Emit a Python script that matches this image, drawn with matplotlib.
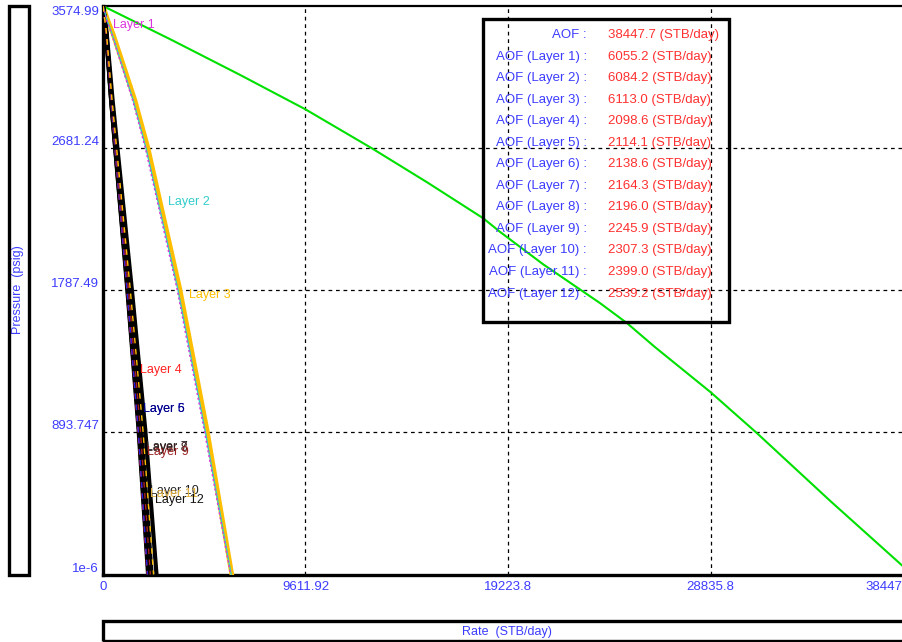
import matplotlib
matplotlib.use('Agg')
import matplotlib.pyplot as plt
from matplotlib.patches import Rectangle

plt.rcParams['font.family'] = ['Liberation Sans', 'DejaVu Sans']

# ---------------- data ----------------
P_MAX = 3574.99
Q_MAX = 38447.7

x_ticks = [0, 9611.92, 19223.8, 28835.8, 38447.7]
x_tick_labels = ["0", "9611.92", "19223.8", "28835.8", "38447.7"]
y_ticks = [0, 893.747, 1787.49, 2681.24, 3574.99]
y_tick_labels = ["1e-6", "893.747", "1787.49", "2681.24", "3574.99"]

total_rate = [0, 3250, 6502, 9612, 12753, 15400, 18050, 18842, 20900, 23588,
              24870, 26200, 28836, 31040, 34500, 37921, 38447.7]
total_pressure = [3574.99, 3362, 3142, 2925, 2681, 2465, 2240, 2155, 1950, 1707,
                  1581, 1430, 1147, 889, 465, 58, 0]

layer_pressure = [3574.99, 3480, 3400, 3210, 2980, 2680, 1790, 910, 0]

layer1_rate = [0, 190, 410, 860, 1410, 2010, 3520, 4800, 6055.2]
layer2_rate = [0, 205, 430, 885, 1440, 2045, 3560, 4840, 6084.2]
layer3_rate = [0, 237, 475, 949, 1519, 2136, 3654, 4935, 6113.0]
layer4_rate = [0, 84, 147, 252, 378, 567, 1133, 1658, 2098.6]
layer5_rate = [0, 85, 148, 254, 381, 571, 1142, 1670, 2114.1]
layer6_rate = [0, 86, 150, 257, 385, 577, 1155, 1689, 2138.6]
layer7_rate = [0, 87, 152, 260, 390, 584, 1169, 1710, 2164.3]
layer8_rate = [0, 88, 154, 264, 395, 593, 1186, 1735, 2196.0]
layer9_rate = [0, 90, 157, 270, 404, 606, 1213, 1774, 2245.9]
layer10_rate = [0, 92, 162, 277, 415, 623, 1246, 1823, 2307.3]
layer11_rate = [0, 96, 168, 288, 432, 648, 1295, 1895, 2399.0]
layer12_rate = [0, 102, 178, 305, 457, 686, 1371, 2006, 2539.2]

layer_names = ["Layer %d" % i for i in range(1, 13)]
aof_total = "38447.7"
aof_layers = ["6055.2", "6084.2", "6113.0", "2098.6", "2114.1", "2138.6",
              "2164.3", "2196.0", "2245.9", "2307.3", "2399.0", "2539.2"]

# label anchor positions (rate, pressure) for layer labels
label_rate = [475, 3085, 4081, 1756, 1899, 1899, 2040, 2040, 2088, 2231, 2231, 2468]
label_pressure = [3456, 2345, 1756, 1286, 1041, 1041, 803, 796, 771, 527, 508, 471]

# ---------------- style ----------------
BLUE = '#3c3cff'
RED = '#ff3030'
W, H = 902, 642

fig = plt.figure(figsize=(W / 100, H / 100), dpi=100)
fig.patch.set_facecolor('white')


def fx(px):
    return px / W


def fy(py):
    return 1 - py / H


ax_left, ax_right, ax_top, ax_bottom = 103, 913, 6, 574.5
ax = fig.add_axes([fx(ax_left), fy(ax_bottom), (ax_right - ax_left) / W,
                   (ax_bottom - ax_top) / H])
ax.set_xlim(0, Q_MAX)
ax.set_ylim(0, P_MAX)

for s in ['left', 'bottom', 'right']:
    ax.spines[s].set_linewidth(2.4)
ax.spines['top'].set_linewidth(1.6)

ax.set_xticks(x_ticks)
ax.set_xticklabels(x_tick_labels)
ax.set_yticks(y_ticks)
ax.set_yticklabels(y_tick_labels)
ax.tick_params(axis='both', length=0, labelsize=9.5, labelcolor=BLUE)
ax.tick_params(axis='x', pad=5)
ax.tick_params(axis='y', pad=3)
for i, lab in enumerate(ax.get_yticklabels()):
    if i == len(y_ticks) - 1:
        lab.set_va('top')
    else:
        lab.set_va('bottom')
xl = ax.get_xticklabels()
xl[-1].set_ha('right')

for v in x_ticks[1:-1]:
    ax.axvline(v, color='black', lw=0.9, dashes=[3, 3], zorder=1)
for v in y_ticks[1:-1]:
    ax.axhline(v, color='black', lw=0.9, dashes=[3, 3], zorder=1)

# total curve
ax.plot(total_rate, total_pressure, color='#00e000', lw=1.5, zorder=3)

# layers 1-3
ax.plot(layer3_rate, layer_pressure, color='#ffbf00', lw=3.4, zorder=3)
ax.plot(layer2_rate, layer_pressure, color='#33cccc', lw=1.0, zorder=4)
ax.plot(layer1_rate, layer_pressure, color='#dd33dd', lw=1.0, dashes=[1.5, 2], zorder=4)

# layers 4-12 bundle
black_layers = [layer7_rate, layer8_rate, layer10_rate, layer12_rate, layer6_rate]
for r in black_layers:
    ax.plot(r, layer_pressure, color='black', lw=3.0, zorder=3)
ax.plot(layer4_rate, layer_pressure, color='#ff2020', lw=1.0, dashes=[4, 4], zorder=4)
ax.plot(layer5_rate, layer_pressure, color='#2020e0', lw=1.0, dashes=[4, 4], zorder=4)
ax.plot(layer9_rate, layer_pressure, color='#aa2222', lw=1.0, dashes=[4, 4], zorder=4)
ax.plot(layer11_rate, layer_pressure, color='#ffbf00', lw=1.0, dashes=[4, 4], zorder=4)

label_colors = ['#dd33dd', '#33cccc', '#ffbf00', '#ff2020', '#2020e0', '#000080',
                '#202020', '#3a1a1a', '#992222', '#222222', '#e0b040', '#111111']
for name, q, p, c in zip(layer_names, label_rate, label_pressure, label_colors):
    ax.text(q, p, name, color=c, fontsize=9, ha='left', va='center', zorder=5)

# AOF box
fig.add_artist(Rectangle((fx(483), fy(322)), (729 - 483) / W, (322 - 19) / H,
                         transform=fig.transFigure, fill=False, lw=2.4,
                         edgecolor='black', zorder=6))
rows_left = ["AOF :"] + ["AOF (%s) :" % n for n in layer_names]
rows_right = [aof_total + " (STB/day)"] + [v + " (STB/day)" for v in aof_layers]
for i, (a, b) in enumerate(zip(rows_left, rows_right)):
    y = 35 + 21.55 * i
    fig.text(fx(587), fy(y), a, color=BLUE, fontsize=9.5, ha='right', va='center', zorder=7)
    fig.text(fx(608), fy(y), b, color=RED, fontsize=9.5, ha='left', va='center', zorder=7)

# y label box
fig.add_artist(Rectangle((fx(8.5), fy(574.5)), 20 / W, (574.5 - 5.5) / H,
                         transform=fig.transFigure, fill=False, lw=2.4,
                         edgecolor='black', zorder=6))
fig.text(fx(18.5), fy(290), "Pressure  (psig)", color=BLUE, fontsize=9,
         rotation=90, ha='center', va='center')

# x label box
fig.add_artist(Rectangle((fx(102.5), fy(640.5)), (913 - 102.5) / W, 19.5 / H,
                         transform=fig.transFigure, fill=False, lw=2.4,
                         edgecolor='black', zorder=6))
fig.text(fx(507), fy(631.5), "Rate  (STB/day)", color=BLUE, fontsize=9,
         ha='center', va='center')

fig.savefig('out.png', dpi=100)
